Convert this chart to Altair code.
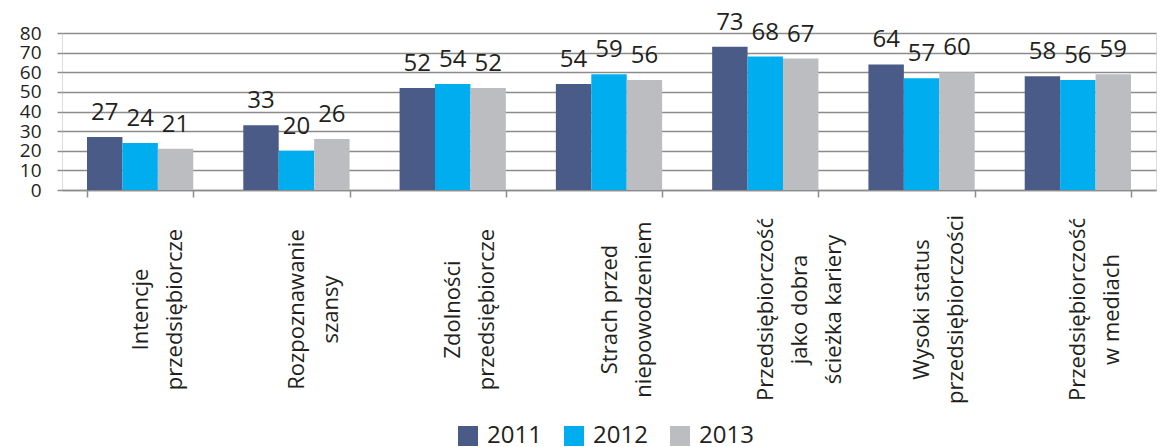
import altair as alt
import pandas as pd

categories = [
    "Intencje|przedsiębiorcze",
    "Rozpoznawanie|szansy",
    "Zdolności|przedsiębiorcze",
    "Strach przed|niepowodzeniem",
    "Przedsiębiorczość|jako dobra|ścieżka kariery",
    "Wysoki status|przedsiębiorczości",
    "Przedsiębiorczość|w mediach",
]
years = ["2011", "2012", "2013"]
v2011 = [27, 33, 52, 54, 73, 64, 58]
v2012 = [24, 20, 54, 59, 68, 57, 56]
v2013 = [21, 26, 52, 56, 67, 60, 59]
y_ticks = [0, 10, 20, 30, 40, 50, 60, 70, 80]
colors = ["#4a5b88", "#00aeef", "#bbbdc0"]

rows = []
for series, yr in zip([v2011, v2012, v2013], years):
    for c, v in zip(categories, series):
        rows.append({"kat": c, "rok": yr, "val": v})
df = pd.DataFrame(rows)

FONT = "Open Sans"
TXT = "#231f20"

x = alt.X("kat:N", sort=categories,
          scale=alt.Scale(paddingInner=0.32, paddingOuter=0.16),
          axis=alt.Axis(title=None, labelAngle=-90, labelAlign="center",
                        labelBaseline="middle", labelPadding=112,
                        labelFontSize=22, labelLineHeight=34, labelFont=FONT,
                        labelColor=TXT, labelExpr="split(datum.label, '|')",
                        labelLimit=0, labelOverlap=False,
                        tickBand="extent", tickSize=7, tickColor="#8c8c8c",
                        tickWidth=1.5, domainColor="#8c8c8c", domainWidth=1.5,
                        grid=False))
y = alt.Y("val:Q", scale=alt.Scale(domain=[0, 80], nice=False),
          axis=alt.Axis(title=None, values=y_ticks, tickCount=9, labelOverlap=False,
                        labelFontSize=19, labelFont=FONT, labelColor=TXT,
                        labelPadding=16, tickSize=5, tickColor="#8c8c8c",
                        tickWidth=1.5, domain=False, gridColor="#8c8c8c",
                        gridWidth=1.5, labelFlush=False))
xo = alt.XOffset("rok:N", sort=years, scale=alt.Scale(paddingInner=0, paddingOuter=0))
color = alt.Color("rok:N", sort=years,
                  scale=alt.Scale(domain=years, range=colors),
                  legend=alt.Legend(title=None, orient="none", legendX=394, legendY=391,
                                    direction="horizontal", symbolType="square",
                                    symbolSize=400, symbolStrokeWidth=0,
                                    labelFontSize=24, labelFont=FONT, labelColor=TXT,
                                    labelOffset=7, columnPadding=20))

base = alt.Chart(df)
bars = base.mark_bar().encode(x=x, y=y, xOffset=xo, color=color)
labels = base.mark_text(fontSize=24, font=FONT, color=TXT, baseline="alphabetic",
                        dy=-17).encode(x=x, y=y, xOffset=xo, text="val:Q")

chart = (bars + labels).properties(
    width=1094, height=157,
    autosize=alt.AutoSizeParams(type="none"),
    padding={"left": 54, "top": 25, "right": 2, "bottom": 257},
).configure_view(stroke=None).configure(background="white")

chart.save("out.html", embed_options={"renderer": "svg", "actions": False})
